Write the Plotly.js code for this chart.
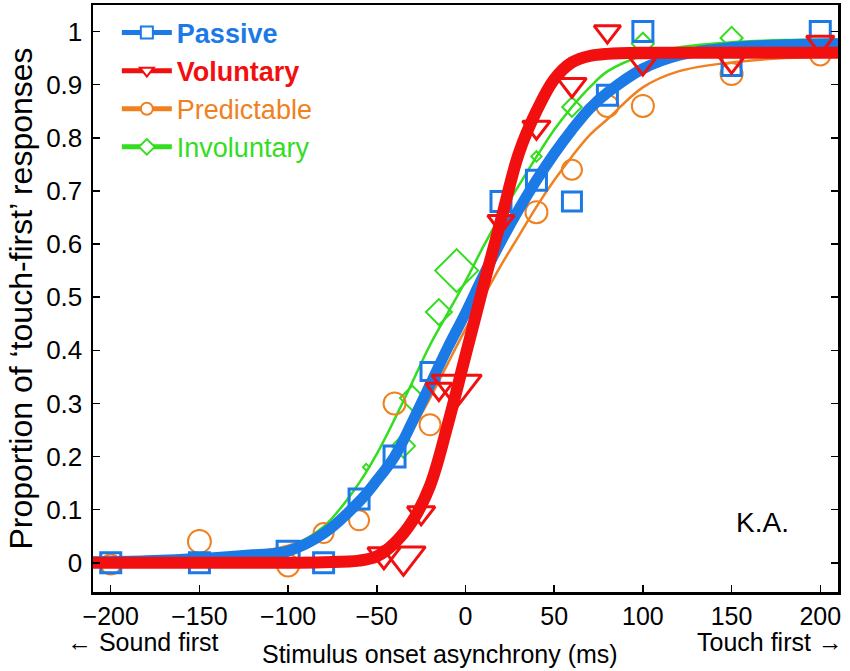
<!DOCTYPE html>
<html>
<head>
<meta charset="utf-8">
<script src="https://cdn.plot.ly/plotly-3.0.1.min.js"></script>
<style>
  body { margin: 0; background: #fff; }
  #chart { width: 850px; height: 671px; }
</style>
</head>
<body>
<div id="chart"></div>
<script>
/***********
  DATA
************/

// Passive (blue squares)
let soaPassive = [-200, -150, -100, -80, -60, -40, -20, 20, 40, 60, 80, 100, 150, 200];
let propPassive = [0, 0, 0.02, 0, 0.12, 0.2, 0.36, 0.68, 0.72, 0.68, 0.88, 1.0, 0.935, 1.0];
let nPassive = [20, 20, 22, 20, 20, 21, 18, 20, 20, 19, 20, 20, 19, 20];

// Voluntary (red triangles)
let soaVoluntary = [-46, -35, -25, -15, -5, 20, 40, 60, 80, 100, 150, 200];
let propVoluntary = [0.015, 0.012, 0.094, 0.327, 0.333, 0.643, 0.82, 0.9, 1.0, 0.94, 0.944, 0.98];
let nVoluntary = [28, 38, 24, 23, 43, 23, 24, 25, 23, 23, 24, 24];

// Predictable (orange circles)
let soaPredictable = [-200, -150, -100, -80, -60, -40, -20, 40, 60, 80, 100, 150, 200];
let propPredictable = [-0.003, 0.04, -0.005, 0.056, 0.08, 0.3, 0.26, 0.66, 0.74, 0.86, 0.86, 0.92, 0.955];
let nPredictable = [20, 23, 22, 20, 20, 22, 21, 22, 20, 22, 22, 22, 20];

// Involuntary (green diamonds)
let soaInvoluntary = [-56, -35, -30, -15, -5, 40, 60, 100, 150];
let propInvoluntary = [0.18, 0.22, 0.31, 0.472, 0.55, 0.765, 0.858, 0.977, 0.988];
let nInvoluntary = [5, 18, 19, 20, 33, 8, 15, 17, 17];

// Fitted curves
let fitX = [-210, -180, -150, -120, -100, -80, -60, -50, -40, -30, -20, -10, 0, 10, 20, 30, 40, 50, 60, 70, 80, 100, 120, 150, 180, 210];
let fitPassive = [0.002, 0.004, 0.008, 0.015, 0.022, 0.055, 0.115, 0.155, 0.2, 0.265, 0.335, 0.405, 0.47, 0.54, 0.605, 0.665, 0.72, 0.77, 0.815, 0.855, 0.885, 0.93, 0.955, 0.97, 0.975, 0.977];
let fitVoluntary = [0, 0, 0, 0, 0, 0.001, 0.004, 0.012, 0.037, 0.078, 0.145, 0.26, 0.39, 0.52, 0.645, 0.77, 0.85, 0.91, 0.942, 0.954, 0.958, 0.96, 0.96, 0.96, 0.96, 0.96];
let fitPredictable = [0.009, 0.01, 0.013, 0.02, 0.032, 0.06, 0.11, 0.15, 0.195, 0.25, 0.31, 0.375, 0.44, 0.5, 0.56, 0.615, 0.67, 0.72, 0.765, 0.805, 0.835, 0.895, 0.925, 0.942, 0.95, 0.953];
let fitInvoluntary = [0.004, 0.006, 0.01, 0.018, 0.03, 0.068, 0.15, 0.205, 0.27, 0.34, 0.41, 0.47, 0.53, 0.595, 0.655, 0.71, 0.764, 0.815, 0.858, 0.895, 0.925, 0.955, 0.97, 0.98, 0.984, 0.985];

// Axis ticks
let xTicks = [-200, -150, -100, -50, 0, 50, 100, 150, 200];
let yTicks = [0, 0.1, 0.2, 0.3, 0.4, 0.5, 0.6, 0.7, 0.8, 0.9, 1];

let blue = '#1c7ae6';
let red = '#f20f0f';
let orange = '#f08020';
let green = '#33dd1f';

/***********
  FUNCTIONS
************/

// fitted curve, open markers, and a legend-only entry with a line sample
function buildTraces(name, xs, ys, sizes, fitY, color, lineWidth, symbol, markerLine) {
  let line = {
    x: fitX, y: fitY, type: 'scatter', mode: 'lines',
    line: {color: color, width: lineWidth, shape: 'spline', smoothing: 1},
    showlegend: false, hoverinfo: 'skip'
  };
  // size arrays make plotly default to 0.7 opacity, so force 1
  let pts = {
    x: xs, y: ys, type: 'scatter', mode: 'markers',
    marker: {symbol: symbol + '-open', size: sizes, color: color, opacity: 1, line: {width: markerLine}},
    showlegend: false
  };
  let legendItem = {
    x: [null], y: [null], type: 'scatter', mode: 'lines+markers', name: name,
    line: {color: color, width: lineWidth},
    marker: {symbol: symbol, size: 14, color: '#fff', opacity: 1, line: {color: color, width: markerLine}}
  };
  return [line, pts, legendItem];
}

function plotChart() {
  let conds = [
    buildTraces('<span style="color:' + blue + '"><b>Passive</b></span>', soaPassive, propPassive, nPassive, fitPassive, blue, 11, 'square', 3),
    buildTraces('<span style="color:' + red + '"><b>Voluntary</b></span>', soaVoluntary, propVoluntary, nVoluntary, fitVoluntary, red, 12, 'triangle-down', 3),
    buildTraces('<span style="color:' + orange + '">Predictable</span>', soaPredictable, propPredictable, nPredictable, fitPredictable, orange, 2.5, 'circle', 2),
    buildTraces('<span style="color:' + green + '">Involuntary</span>', soaInvoluntary, propInvoluntary, nInvoluntary, fitInvoluntary, green, 2.5, 'diamond', 2)
  ];

  // draw order: thin curves first, thick ones on top
  let plotData = [];
  [3, 2, 0, 1].forEach(function (i) {
    plotData.push(conds[i][0], conds[i][1]);
  });
  conds.forEach(function (c) {
    plotData.push(c[2]);
  });

  let font = 'Liberation Sans, Arial, sans-serif';

  let layout = {
    width: 850, height: 671,
    margin: {l: 93, r: 12, t: 5, b: 79},
    paper_bgcolor: '#fff', plot_bgcolor: '#fff',
    font: {family: font, color: '#000', size: 25},
    showlegend: true,
    legend: {
      x: 0.032, y: 0.994, xanchor: 'left', yanchor: 'top',
      bgcolor: 'rgba(0,0,0,0)', borderwidth: 0,
      font: {size: 27, family: font},
      itemwidth: 50, itemsizing: 'constant', traceorder: 'normal'
    },
    xaxis: {
      range: [-210, 210], tickvals: xTicks, ticks: 'inside', ticklen: 7, tickwidth: 1.5,
      tickcolor: '#000', showline: true, linecolor: '#000', linewidth: 2.5, mirror: true,
      showgrid: false, zeroline: false, tickfont: {size: 25}
    },
    yaxis: {
      range: [-0.055, 1.05], tickvals: yTicks, ticks: 'inside', ticklen: 7, tickwidth: 1.5,
      tickcolor: '#000', showline: true, linecolor: '#000', linewidth: 2.5, mirror: 'ticks',
      showgrid: false, zeroline: false, tickfont: {size: 26}, ticklabelstandoff: 3,
      title: {text: 'Proportion of ‘touch-first’ responses', font: {size: 32}, standoff: 4}
    },
    annotations: [
      {text: 'Stimulus onset asynchrony (ms)', xref: 'paper', yref: 'paper', x: 0.466, y: -0.105,
       xanchor: 'center', yanchor: 'middle', showarrow: false, font: {size: 25}},
      {text: '← Sound first', xref: 'paper', yref: 'paper', x: -0.038, y: -0.085,
       xanchor: 'left', yanchor: 'middle', showarrow: false, font: {size: 25}},
      {text: 'Touch first →', xref: 'paper', yref: 'paper', x: 1.0094, y: -0.085,
       xanchor: 'right', yanchor: 'middle', showarrow: false, font: {size: 25}},
      {text: 'K.A.', xref: 'paper', yref: 'paper', x: 0.898, y: 0.119,
       xanchor: 'center', yanchor: 'middle', showarrow: false, font: {size: 28}}
    ]
  };

  Plotly.newPlot('chart', plotData, layout, {displayModeBar: false, staticPlot: true});
}

/***********
  INIT
************/
plotChart();
</script>
</body>
</html>
